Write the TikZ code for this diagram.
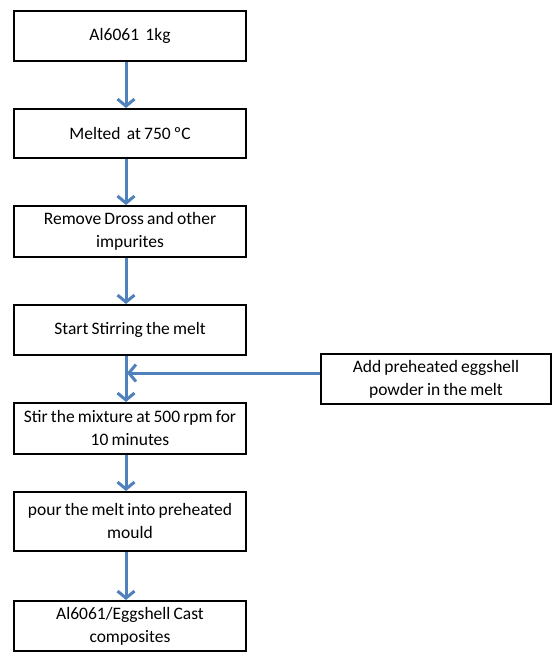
\documentclass[tikz,border=0pt]{standalone}
\usepackage{fontspec}
\setmainfont[WordSpace=0.8]{Carlito}
\usetikzlibrary{arrows.meta}
\definecolor{arrowblue}{RGB}{79,129,189}
\tikzset{
  stepbox/.style={draw=black, line width=1.8pt, minimum width=232pt, minimum height=50pt,
    align=center, inner sep=0pt, font=\fontsize{17.5}{23}\selectfont, anchor=north},
  flowarrow/.style={draw=arrowblue, line width=3pt, -{Straight Barb[length=7pt,width=17pt,line width=3pt]}}
}
\begin{document}
\begin{tikzpicture}[x=1pt,y=-1pt]
\useasboundingbox (0,0) rectangle (553,653);
\node[stepbox] (b1) at (130,10) {Al6061\ \ 1kg};
\node[stepbox, minimum height=49pt] (b2) at (130,108) {Melted\ \ at 750 ºC};
\node[stepbox, minimum height=51pt] (b3) at (130,205) {Remove Dross and other\\impurites};
\node[stepbox] (b4) at (130,304) {Start Stirring the melt};
\node[stepbox, minimum height=51pt] (b5) at (130,402) {Stir the mixture at 500 rpm for\\10 minutes};
\node[stepbox, minimum height=59pt] (b6) at (130,491) {pour the melt into preheated\\mould};
\node[stepbox] (b7) at (130,600) {Al6061/Eggshell Cast\\composites};
\node[stepbox, minimum width=230pt] (s1) at (436,353) {Add preheated eggshell\\powder in the melt};
\coordinate (sj) at (s1.west |- 0,373);
\coordinate (mj) at (127,373);
\draw[flowarrow] ([xshift=-4pt]b1.south) -- ([xshift=-4pt]b2.north);
\draw[flowarrow] ([xshift=-4pt]b2.south) -- ([xshift=-4pt]b3.north);
\draw[flowarrow] ([xshift=-4pt]b3.south) -- ([xshift=-4pt]b4.north);
\draw[flowarrow] ([xshift=-4pt]b4.south) -- ([xshift=-4pt]b5.north);
\draw[flowarrow] ([xshift=-4pt]b5.south) -- ([xshift=-4pt]b6.north);
\draw[flowarrow] ([xshift=-4pt]b6.south) -- ([xshift=-4pt]b7.north);
\draw[flowarrow] (sj) -- (mj);
\end{tikzpicture}
\end{document}
